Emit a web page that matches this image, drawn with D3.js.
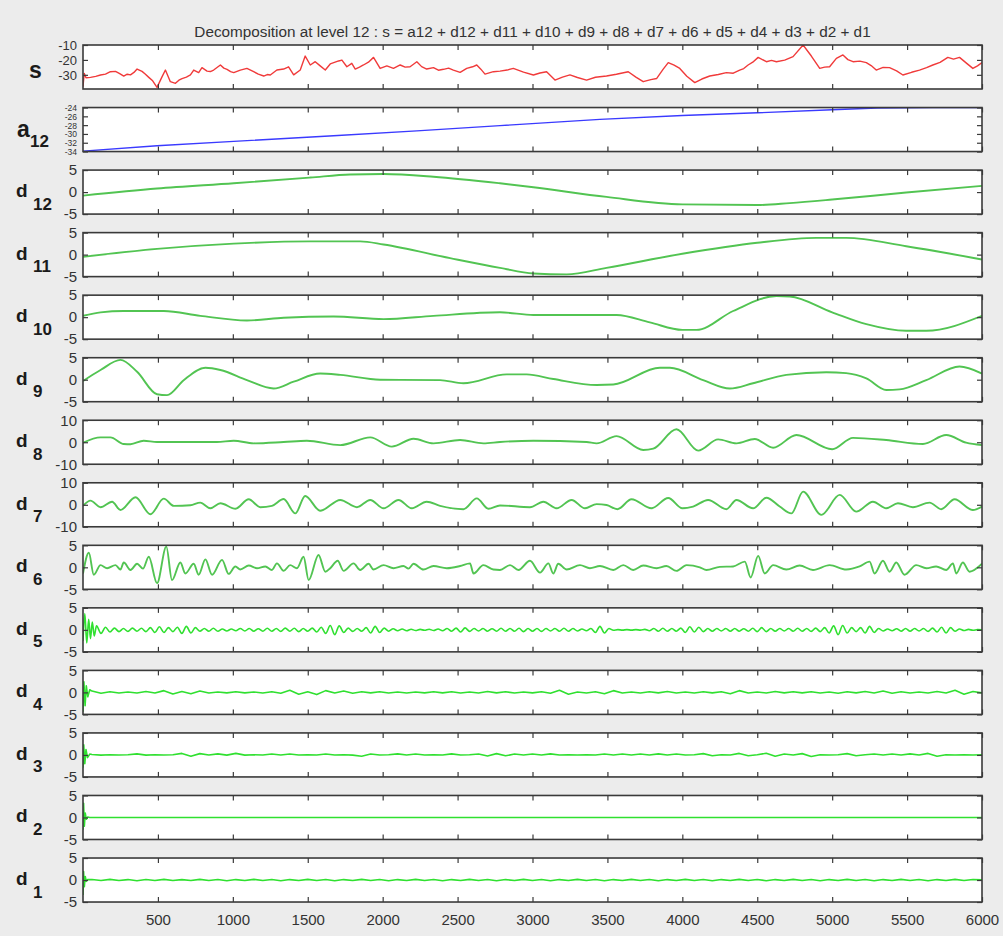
<!DOCTYPE html>
<html>
<head>
<meta charset="utf-8">
<title>Decomposition at level 12</title>
<script src="https://cdn.jsdelivr.net/npm/d3@7"></script>
<style>
body { margin:0; background:#fff; }
text { font-family:"Liberation Sans", Arial, Helvetica, sans-serif; }
</style>
</head>
<body>
<script>
// values: [x, value] knots, or uniform runs after a short head
var xTicks = [500, 1000, 1500, 2000, 2500, 3000, 3500, 4000, 4500, 5000, 5500, 6000];

var labelMain = ["s", "a", "d", "d", "d", "d", "d", "d", "d", "d", "d", "d", "d", "d"];
var labelSub  = ["", "12", "12", "11", "10", "9", "8", "7", "6", "5", "4", "3", "2", "1"];

var yDomains = [[-39.5, -10], [-34, -24], [-5, 5], [-5, 5], [-5, 5], [-5, 5], [-10, 10], [-10, 10],
                [-5, 5], [-5, 5], [-5, 5], [-5, 5], [-5, 5], [-5, 5]];
var yTickVals = [[-30, -20, -10], [-34, -32, -30, -28, -26, -24], [-5, 0, 5], [-5, 0, 5], [-5, 0, 5], [-5, 0, 5],
                 [-10, 0, 10], [-10, 0, 10], [-5, 0, 5], [-5, 0, 5], [-5, 0, 5], [-5, 0, 5], [-5, 0, 5], [-5, 0, 5]];

var sKnots = [[0,-38],[8,-29],[20,-32],[50,-31.7],[85,-31],[117,-30.1],[150,-29.5],[183,-27.9],[217,-27.7],
  [245,-29.2],[272,-30.8],[295,-29.6],[317,-30],[340,-28.4],[361,-26.1],[394,-27.7],[415,-29.5],[439,-31.7],
  [465,-34],[494,-38.4],[528,-31.2],[550,-26.8],[583,-34.6],[617,-35.7],[640,-33.6],[661,-32.5],[690,-31.5],
  [717,-30.1],[739,-26.8],[772,-28.5],[794,-25.2],[828,-27.5],[850,-27.8],[872,-26.8],[917,-23.4],[940,-25.5],
  [961,-26.3],[985,-27.8],[1006,-28.5],[1050,-26.8],[1094,-25.7],[1139,-27.9],[1170,-29.5],[1206,-30.8],
  [1230,-29.8],[1250,-30.1],[1294,-26.8],[1339,-26.1],[1372,-24.6],[1406,-30],[1450,-26.8],[1483,-17.4],
  [1517,-23.4],[1550,-21.2],[1583,-24],[1617,-26.8],[1650,-22.7],[1706,-20.7],[1728,-20.1],[1761,-24.6],
  [1794,-22.3],[1817,-26.1],[1845,-24.8],[1872,-23.4],[1905,-21.5],[1939,-18.3],[1983,-25.7],[2028,-24],
  [2072,-25.7],[2117,-23.4],[2150,-24.8],[2183,-24.6],[2228,-21.2],[2260,-24.5],[2294,-26.1],[2339,-25.2],
  [2372,-26.9],[2406,-26.3],[2440,-25.5],[2472,-26.8],[2517,-28.3],[2561,-25.7],[2600,-24.6],[2628,-23.4],
  [2655,-26.2],[2683,-29.5],[2739,-27.9],[2783,-27.5],[2830,-26.8],[2872,-25.7],[2940,-28.2],[3006,-30.1],
  [3050,-28.8],[3094,-27.9],[3150,-33.5],[3200,-31.5],[3250,-30],[3300,-31.8],[3361,-33.5],[3420,-31.6],
  [3494,-30.8],[3560,-29.6],[3639,-27.9],[3690,-31.5],[3739,-34.6],[3790,-33.2],[3828,-32.5],[3870,-26.5],
  [3906,-21.8],[3945,-23.5],[3983,-25.7],[4030,-31],[4083,-35.2],[4130,-32.8],[4183,-30.8],[4240,-29.8],
  [4294,-28.5],[4340,-28.9],[4383,-26.8],[4410,-25.8],[4439,-23.4],[4470,-21.5],[4506,-18.3],[4561,-21.2],
  [4595,-20.3],[4628,-21.2],[4683,-20.1],[4739,-17.8],[4806,-10],[4861,-17.4],[4917,-25.7],[4950,-24.8],
  [4983,-24.6],[5028,-19],[5072,-16.7],[5105,-19.8],[5139,-21.2],[5185,-20.8],[5228,-21.8],[5260,-23.8],
  [5294,-26.8],[5340,-25],[5383,-25.2],[5430,-27.3],[5472,-30.1],[5530,-28.3],[5583,-26.8],[5630,-25.2],
  [5672,-23.4],[5720,-21.7],[5772,-18.3],[5810,-19.5],[5850,-18.3],[5900,-22.5],[5939,-25.7],[5970,-24],
  [6000,-21.8]];

var a12Knots = [[0,-33.9],[494,-32.7],[1006,-31.7],[1672,-30.4],[2228,-29.3],[2783,-28.1],[3450,-26.7],
  [4000,-25.8],[4500,-25.2],[5000,-24.5],[5300,-24.1],[5672,-24],[6000,-24]];

var d12Knots = [[0,-0.8],[494,0.8],[1006,2.0],[1517,3.3],[1783,4.0],[2006,4.1],[2339,3.5],[2783,2.0],
  [3006,1.1],[3494,-1.1],[4000,-2.8],[4500,-2.95],[4717,-2.5],[5000,-1.7],[5494,-0.1],[6000,1.4]];

var d11Knots = [[0,-0.5],[494,1.3],[1006,2.5],[1517,3.0],[1850,3.0],[2006,2.3],[2450,-0.8],[2783,-3.0],
  [3006,-4.3],[3228,-4.5],[3494,-3.0],[4000,0.2],[4500,2.7],[4894,3.8],[5094,3.8],[5494,1.9],[6000,-1.1]];

var d10Knots = [[0,0.3],[117,1.1],[272,1.4],[539,1.4],[783,0.3],[1094,-0.75],[1339,-0.15],[1672,0.15],
  [2006,-0.45],[2339,0.3],[2783,1.1],[3006,0.5],[3561,0.5],[3783,-1.2],[4000,-2.9],[4094,-2.9],[4339,1.4],
  [4628,4.8],[4717,4.7],[5000,1.1],[5228,-1.6],[5494,-3.1],[5628,-3.1],[6000,0.3]];

var d9Knots = [[0,-0.3],[117,2.2],[250,4.5],[361,1.8],[494,-3.3],[561,-3.5],[672,-0.1],[817,2.7],[917,2.2],
  [1094,-0.1],[1272,-2.0],[1406,-0.45],[1583,1.4],[1717,1.1],[1983,0],[2383,-0.1],[2539,-0.8],[2828,1.2],
  [2961,1.2],[3139,0.15],[3428,-1.2],[3539,-1.1],[3850,2.7],[3917,2.7],[4139,-0.1],[4317,-2.0],[4472,-0.8],
  [4694,1.1],[4961,1.7],[5094,1.5],[5228,0.3],[5361,-2.35],[5450,-2.2],[5628,-0.1],[5850,3.0],[6000,1.4]];

var d8Knots = [[0,-0.2],[117,2.2],[183,2.2],[272,-0.8],[317,-0.9],[405,0.7],[494,0.1],[894,0.1],[1006,0.7],
  [1139,-0.5],[1339,0.1],[1494,0.7],[1717,-1.3],[1917,2.2],[2061,-2.0],[2206,1.6],[2339,-0.5],[2517,1.0],
  [2672,-0.5],[2783,0.1],[3006,0.7],[3361,0.1],[3428,-0.5],[3561,2.8],[3739,-3.5],[3806,-2.9],[3961,5.9],
  [4106,-3.8],[4239,1.3],[4361,-0.5],[4483,1.5],[4606,-2.5],[4761,3.3],[5000,-3.2],[5139,2.0],[5361,1.0],
  [5606,-0.8],[5761,3.3],[5894,-0.2],[6000,-1.3]];

var d7Knots = [[0,-0.5],[50,1.9],[117,-1.1],[194,1.4],[250,-2.4],[350,3.4],[450,-4.3],[539,2.8],[606,-0.5],
  [717,-0.2],[783,1.0],[850,-1.6],[917,0.7],[1017,-1.8],[1106,2.5],[1183,-1.1],[1261,-0.5],[1339,2.6],
  [1417,-3.9],[1483,4.0],[1583,-2.7],[1717,2.2],[1828,-1.1],[1917,2.2],[2006,-1.6],[2106,2.2],[2194,-1.6],
  [2294,1.4],[2383,-0.5],[2539,-2.0],[2628,2.9],[2706,-1.8],[2783,-0.3],[2983,-1.1],[3072,1.4],[3161,-1.6],
  [3261,2.2],[3350,-1.6],[3428,0.3],[3494,-0.1],[3567,-2.0],[3661,2.5],[3794,-1.6],[3906,3.1],[4000,-1.6],
  [4072,-0.8],[4172,2.2],[4294,-2.0],[4361,2.2],[4472,-1.6],[4561,3.2],[4650,-0.8],[4728,-3.9],[4806,6.0],
  [4928,-4.6],[5050,4.5],[5161,-3.1],[5272,1.4],[5361,-1.6],[5439,0.7],[5539,-1.1],[5650,1.0],[5728,-2.0],
  [5817,2.5],[5939,-2.4],[6000,-0.8]];

var d6Knots = [[0,-1.4],[39,3.3],[72,-1.7],[117,0.5],[161,-0.2],[217,0.5],[250,-0.5],[272,1.1],[317,-0.6],
  [361,0.8],[400,-0.3],[439,2.4],[494,-3.6],[556,4.7],[594,-2.9],[650,1.1],[683,-1.4],[739,0.8],[772,-1.7],
  [817,1.8],[861,-1.7],[928,1.7],[972,-1.5],[1017,0.2],[1050,-0.5],[1106,0.4],[1161,-0.2],[1217,0.2],
  [1261,-0.6],[1294,0.9],[1339,-0.8],[1383,0.5],[1428,-0.2],[1472,2.4],[1506,-2.9],[1572,2.8],[1617,-1.0],
  [1650,-0.2],[1700,1.5],[1739,-0.8],[1806,0.9],[1850,-0.6],[1906,0.8],[1939,-0.5],[2006,0.5],[2072,-0.2],
  [2139,0.3],[2172,-0.3],[2206,0.8],[2272,-0.5],[2339,0.3],[2428,-0.2],[2517,0.3],[2583,0.9],[2606,-1.4],
  [2672,0.5],[2739,-0.5],[2783,-0.6],[2850,0.5],[2906,-0.6],[2983,1.5],[3050,-1.2],[3106,0.9],[3139,-1.4],
  [3172,0.8],[3228,-0.5],[3317,0.5],[3383,-0.2],[3450,0.3],[3539,-0.6],[3606,0.5],[3672,-0.6],[3739,0.4],
  [3828,-0.2],[3894,0.3],[3961,-0.8],[4028,0.5],[4117,0],[4161,-0.6],[4250,0.1],[4339,0.2],[4417,1.3],
  [4456,-2.3],[4506,2.6],[4550,-1.4],[4606,0.5],[4694,-0.5],[4783,0.4],[4872,-0.6],[4983,0.5],[5094,-0.5],
  [5183,0.2],[5250,1.3],[5283,-1.4],[5339,1.5],[5383,-1.0],[5428,1.1],[5483,-1.7],[5561,0.5],[5628,-0.2],
  [5694,0.2],[5761,-0.6],[5806,0.9],[5828,-1.4],[5872,1.1],[5917,-1.0],[6000,0.8]];

// d5: start burst, then values every 30 from x = 90
var d5Head = [[0,-2.5],[12,3.7],[25,-3.0],[38,2.4],[50,-2.0],[62,1.8],[75,-1.4]];
var d5Body = [0.9,-0.8,0.6,-0.5,0.4,-0.4,0.3,-0.35,0.4,-0.3,
  0.35,-0.4,0.5,-0.6,0.7,-0.6,0.5,-0.4,0.6,-0.8,
  0.8,-0.7,0.5,-0.3,0.3,-0.3,0.35,-0.3,0.2,-0.25,
  0.2,-0.2,0.3,-0.25,0.3,-0.3,0.25,-0.3,0.35,-0.3,
  0.3,-0.35,0.4,-0.3,0.35,-0.4,0.3,-0.3,0.4,-0.5,
  0.6,-0.8,1.0,-1.1,0.9,-0.6,0.4,-0.35,0.3,-0.3,
  0.5,-0.7,0.8,-0.6,0.4,-0.3,0.25,-0.2,0.2,-0.2,
  0.15,-0.15,0.1,-0.1,0.15,-0.15,0.2,-0.2,0.3,-0.3,
  0.4,-0.5,0.45,-0.35,0.3,-0.25,0.3,-0.3,0.25,-0.3,
  0.35,-0.3,0.3,-0.3,0.35,-0.4,0.3,-0.3,0.3,-0.35,
  0.3,-0.25,0.3,-0.3,0.35,-0.3,0.3,-0.25,0.2,-0.2,
  0.3,-0.6,0.8,-0.7,0.3,-0.1,0.05,-0.05,0.05,-0.05,
  0.05,-0.05,0.1,-0.2,0.3,-0.3,0.35,-0.3,0.3,-0.3,
  0.4,-0.6,0.7,-0.5,0.6,-0.4,0.3,-0.3,0.3,-0.25,
  0.3,-0.3,0.3,-0.3,0.25,-0.3,0.35,-0.4,0.5,-0.4,
  0.3,-0.3,0.3,-0.25,0.3,-0.3,0.35,-0.3,0.3,-0.35,
  0.4,-0.4,0.5,-0.7,0.9,-1.1,1.0,-0.7,0.5,-0.4,
  0.5,-0.7,0.8,-0.6,0.3,-0.25,0.2,-0.2,0.25,-0.3,
  0.3,-0.3,0.3,-0.25,0.3,-0.35,0.4,-0.5,0.6,-0.7,
  0.5,-0.3,0.2,-0.15,0.1,-0.1,0.05,0];

// d4, d3, d1: start burst, then values every 60 from x = 60
var d4Head = [[0,-4.4],[6,2.4],[14,-3.0],[22,1.5],[32,-1.0],[45,0.6]];
var d4Body = [0.3,-0.2,0.15,-0.15,0.1,-0.15,0.2,-0.15,0.4,-0.35,
  0.2,-0.3,0.3,-0.15,0.1,-0.1,0.15,-0.1,0.1,-0.15,
  0.15,-0.2,0.5,-0.4,0.15,-0.5,0.4,-0.15,0.3,-0.2,
  0.15,-0.1,0.15,-0.15,0.1,-0.15,0.1,-0.1,0.15,-0.1,
  0.15,-0.15,0.1,-0.15,0.2,-0.1,0.15,-0.15,0.1,-0.1,
  0.15,-0.2,0.5,-0.4,0.1,-0.15,0.15,-0.3,0.4,-0.15,
  0.1,-0.15,0.15,-0.1,0.2,-0.15,0.1,-0.15,0.15,-0.1,
  0.15,-0.3,0.4,-0.15,0.1,-0.15,0.2,-0.1,0.15,-0.1,
  0.15,-0.15,0.1,-0.2,0.15,-0.1,0.2,-0.15,0.3,-0.2,
  0.15,-0.15,0.1,-0.15,0.2,-0.15,0.5,-0.4,0.2,-0.1];

var d3Head = [[0,-2.9],[5,2.3],[12,-2.0],[20,1.2],[30,-0.6],[45,0.2]];
var d3Body = [0.1,-0.05,0.03,-0.03,0.03,0.25,-0.05,0.03,-0.03,0.05,
  0.35,-0.3,0.3,-0.03,0.25,-0.05,0.35,-0.05,0.03,-0.03,
  0.2,-0.03,0.2,-0.03,0.03,-0.03,0.2,-0.03,0.03,-0.05,
  -0.3,0.2,-0.03,0.03,0.25,-0.03,0.2,-0.03,0.03,-0.03,
  0.25,-0.03,0.03,0.2,-0.25,0.3,-0.2,0.2,-0.03,0.2,
  -0.03,0.25,-0.03,0.03,-0.03,0.03,-0.03,0.2,-0.03,0.2,
  -0.03,0.2,-0.03,0.25,-0.03,0.2,-0.03,0.03,0.3,-0.2,
  0.03,-0.03,0.35,-0.2,0.03,0.4,-0.3,0.2,-0.03,0.3,
  -0.35,0.03,-0.03,0.03,0.3,-0.2,0.03,0.2,-0.03,0.2,
  -0.03,0.25,-0.03,0.35,-0.3,0.03,-0.03,0.03,-0.03,0.03];

var d2Knots = [[0,-2.8],[4,3.2],[9,-2.0],[15,1.0],[22,-0.4],[32,0.1],[45,0],[6000,0]];

var d1Head = [[0,-3.4],[4,1.9],[9,-1.5],[15,0.8],[22,-0.3],[30,0.1]];
var d1Body = [0.12,-0.1,0.15,-0.12,0.1,-0.15,0.12,-0.1,0.15,-0.12,
  0.1,-0.12,0.15,-0.1,0.12,-0.15,0.1,-0.12,0.15,-0.1,
  0.12,-0.15,0.1,-0.12,0.15,-0.1,0.12,-0.15,0.1,-0.12,
  0.15,-0.1,0.12,-0.15,0.1,-0.12,0.15,-0.1,0.12,-0.15,
  0.1,-0.12,0.15,-0.1,0.12,-0.15,0.1,-0.12,0.15,-0.1,
  0.12,-0.15,0.1,-0.12,0.15,-0.1,0.12,-0.15,0.1,-0.12,
  0.15,-0.1,0.12,-0.15,0.1,-0.12,0.15,-0.1,0.12,-0.15,
  0.1,-0.12,0.15,-0.1,0.12,-0.15,0.1,-0.12,0.15,-0.1,
  0.12,-0.15,0.1,-0.12,0.15,-0.1,0.12,-0.15,0.1,-0.12,
  0.15,-0.1,0.12,-0.15,0.1,-0.12,0.15,-0.1,0.12,0.05];

function run(head, x0, step, vals) {
    return head.concat(vals.map(function(v, i) { return [x0 + i * step, v]; }));
}

var series = [sKnots, a12Knots, d12Knots, d11Knots, d10Knots, d9Knots, d8Knots, d7Knots, d6Knots,
    run(d5Head, 90, 30, d5Body), run(d4Head, 60, 60, d4Body), run(d3Head, 60, 60, d3Body),
    d2Knots, run(d1Head, 60, 60, d1Body)];

// layout
var width = 1003, height = 936;
var left = 83, right = 982, top0 = 45, panelH = 44, step = 62.54;
var lineColor = function(i) { return i == 0 ? "#f03a3a" : i == 1 ? "#3a3aff" : i < 9 ? "#52c452" : "#30e030"; };
var plain = function(d) { return String(d); };

var svg = d3.select("body").append("svg")
    .attr("width", width)
    .attr("height", height);

svg.append("rect")
    .attr("x", 0).attr("y", 0)
    .attr("width", width).attr("height", height)
    .attr("fill", "#ececec");

var x = d3.scaleLinear().domain([0, 6000]).range([left, right]);

svg.append("text")
    .attr("x", (left + right) / 2)
    .attr("y", 37)
    .attr("text-anchor", "middle")
    .style("font-size", "15.3px")
    .style("fill", "#333")
    .text("Decomposition at level 12 : s = a12 + d12 + d11 + d10 + d9 + d8 + d7 + d6 + d5 + d4 + d3 + d2 + d1");

series.forEach(function(pts, i) {
    var top = top0 + i * step;
    var y = d3.scaleLinear().domain(yDomains[i]).range([top + panelH, top]);
    var g = svg.append("g");

    g.append("rect")
        .attr("x", left).attr("y", top)
        .attr("width", right - left).attr("height", panelH)
        .attr("fill", "#fff");

    g.append("clipPath").attr("id", "clip" + i)
        .append("rect")
        .attr("x", left).attr("y", top)
        .attr("width", right - left).attr("height", panelH);

    var curve = (i < 2 || i > 9) ? d3.curveLinear : d3.curveMonotoneX;
    var line = d3.line()
        .x(function(d) { return x(d[0]); })
        .y(function(d) { return y(d[1]); })
        .curve(curve);

    g.append("path")
        .datum(pts)
        .attr("clip-path", "url(#clip" + i + ")")
        .attr("d", line)
        .attr("fill", "none")
        .style("stroke", lineColor(i))
        .style("stroke-width", i < 2 ? 1.4 : (i < 9 ? 1.9 : 1.6))
        .style("stroke-linejoin", "round");

    var last = (i == series.length - 1);
    var axB = d3.axisBottom(x).tickValues(xTicks).tickSize(-5).tickPadding(12).tickFormat(plain);
    if (!last) axB.tickFormat("");
    g.append("g").attr("transform", "translate(0," + (top + panelH) + ")").call(axB);
    g.append("g").attr("transform", "translate(0," + top + ")")
        .call(d3.axisTop(x).tickValues(xTicks).tickSize(-5).tickFormat(""));
    var gL = g.append("g").attr("transform", "translate(" + left + ",0)")
        .call(d3.axisLeft(y).tickValues(yTickVals[i]).tickSize(-5).tickPadding(6).tickFormat(plain));
    g.append("g").attr("transform", "translate(" + right + ",0)")
        .call(d3.axisRight(y).tickValues(yTickVals[i]).tickSize(-5).tickFormat(""));

    g.selectAll(".domain").remove();
    g.selectAll(".tick line").attr("stroke", "#3a3a3a").attr("stroke-width", 1.2);
    g.selectAll(".tick text")
        .attr("fill", "#333")
        .style("font-size", "15px")
        .style("font-family", "'Liberation Sans', Arial, sans-serif");
    // the s and a12 ticks sit close together, so their labels are set smaller to stay apart
    if (i == 0) gL.selectAll(".tick text").style("font-size", "13px");
    if (i == 1) gL.selectAll(".tick text").style("font-size", "8.5px").attr("dy", "0.34em");

    g.append("rect")
        .attr("x", left).attr("y", top)
        .attr("width", right - left).attr("height", panelH)
        .attr("fill", "none")
        .attr("stroke", "#3a3a3a")
        .attr("stroke-width", 1.6);

    // row label, e.g. d with subscript 12
    var big = i < 2 ? 23 : 19;
    var lab = svg.append("text")
        .attr("x", i == 0 ? 29 : (i == 1 ? 17 : 16))
        .attr("y", top + panelH / 2 + (i == 0 ? 11 : (i == 1 ? 7 : 5)))
        .style("font-weight", "bold")
        .style("fill", "#1a1a1a")
        .style("font-size", big + "px");
    lab.append("tspan").text(labelMain[i]);
    if (labelSub[i]) {
        lab.append("tspan")
            .attr("x", i == 1 ? 30 : 33)
            .attr("dy", i == 1 ? 10 : 12.5)
            .style("font-size", "17px")
            .text(labelSub[i]);
    }
});
</script>
</body>
</html>
